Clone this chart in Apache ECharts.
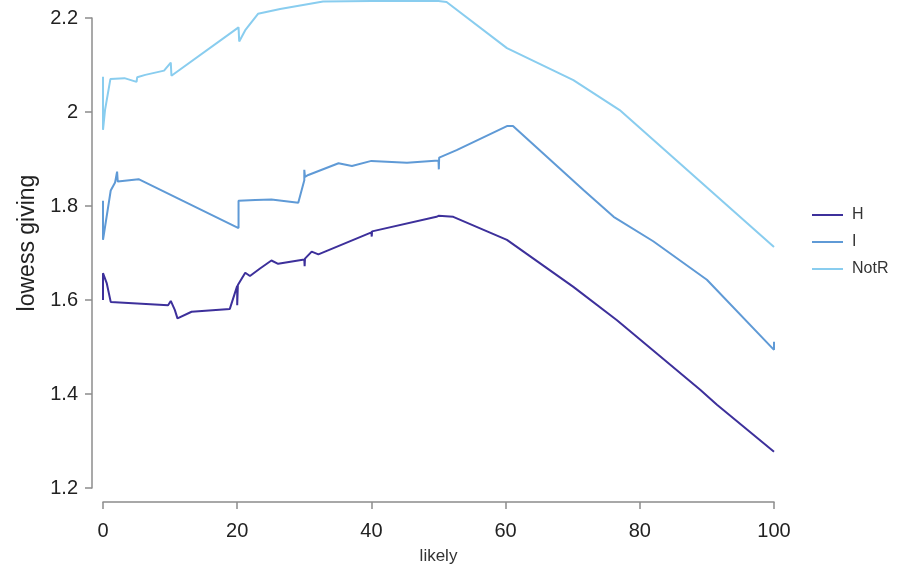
<!DOCTYPE html>
<html>
<head>
<meta charset="utf-8">
<script src="https://cdn.jsdelivr.net/npm/echarts@6/dist/echarts.min.js"></script>
<style>
  html, body { margin: 0; padding: 0; background: #fff; }
  #chart { width: 898px; height: 570px; }
</style>
</head>
<body>
<div id="chart"></div>
<script>
// Series names
var seriesNames = ["H", "I", "NotR"];

// H series
var hX = [0, 0, 0.55, 1.15, 9.7, 10.1, 10.7, 11.1, 13.2, 18.9, 20.0, 20.0, 20.1, 21.2, 21.9, 23.4, 25.1, 26.1, 30.0, 30.05, 30.1, 31.1, 32.1, 40.0, 40.05, 40.1, 49.7, 50.0, 52.2, 60.2, 70.1, 76.6, 89.0, 91.5, 100];
var hY = [1.600, 1.657, 1.636, 1.596, 1.589, 1.598, 1.579, 1.561, 1.575, 1.581, 1.630, 1.589, 1.632, 1.658, 1.651, 1.667, 1.684, 1.677, 1.686, 1.672, 1.688, 1.703, 1.697, 1.744, 1.735, 1.746, 1.777, 1.779, 1.777, 1.728, 1.628, 1.557, 1.409, 1.377, 1.277];

// I series
var iX = [0, 0, 1.15, 1.8, 2.1, 2.2, 5.3, 20.2, 20.2, 22.7, 25.1, 29.1, 30.0, 30.0, 30.1, 30.6, 35.1, 37.1, 40.0, 45.3, 50.0, 50.05, 50.1, 52.7, 60.2, 61.1, 71.6, 76.1, 82.0, 90.0, 100, 100];
var iY = [1.811, 1.728, 1.833, 1.850, 1.873, 1.852, 1.857, 1.753, 1.811, 1.813, 1.814, 1.807, 1.855, 1.877, 1.862, 1.866, 1.891, 1.885, 1.896, 1.892, 1.897, 1.878, 1.903, 1.919, 1.970, 1.970, 1.834, 1.777, 1.725, 1.643, 1.494, 1.511];

// NotR series
var nX = [0, 0, 0.3, 1.1, 3.2, 5.0, 5.1, 6.3, 9.1, 10.1, 10.2, 20.2, 20.3, 21.2, 23.1, 26.4, 32.8, 40, 45, 50, 51.2, 60.2, 70.1, 77.0, 100];
var nY = [2.075, 1.962, 2.004, 2.070, 2.072, 2.064, 2.074, 2.079, 2.088, 2.105, 2.077, 2.180, 2.150, 2.174, 2.209, 2.219, 2.235, 2.236, 2.236, 2.236, 2.234, 2.136, 2.068, 2.004, 1.713];

// Axis ticks
var xTicks = [0, 20, 40, 60, 80, 100];
var yTicks = [1.2, 1.4, 1.6, 1.8, 2.0, 2.2];

var colors = ["#3d309b", "#5f9ad6", "#89cdef"];

function zip(xs, ys) { return xs.map(function (x, k) { return [x, ys[k]]; }); }

var FONT = '"Liberation Sans", Arial, sans-serif';
var chart = echarts.init(document.getElementById('chart'), null, { renderer: 'canvas' });

var dataSets = [zip(hX, hY), zip(iX, iY), zip(nX, nY)];

chart.setOption({
  animation: false,
  backgroundColor: '#ffffff',
  color: colors,
  grid: { left: 103, right: 124, top: 18, bottom: 82, containLabel: false },
  legend: {
    orient: 'vertical',
    left: 807,
    top: 202,
    icon: 'rect',
    itemWidth: 31,
    itemHeight: 2,
    itemGap: 11,
    textStyle: { fontFamily: FONT, fontSize: 16, color: '#333', padding: [0, 0, 0, 4] },
    data: seriesNames
  },
  xAxis: {
    type: 'value',
    min: xTicks[0],
    max: xTicks[xTicks.length - 1],
    interval: 20,
    offset: 14,
    name: 'likely',
    nameLocation: 'middle',
    nameGap: 46,
    nameTextStyle: { fontFamily: FONT, fontSize: 17, color: '#333' },
    axisLine: { show: true, onZero: false, lineStyle: { color: '#8c8c8c', width: 1.5 } },
    axisTick: { show: true, length: 7, lineStyle: { color: '#8c8c8c', width: 1.5 } },
    axisLabel: { fontFamily: FONT, fontSize: 20, color: '#222', margin: 19 },
    splitLine: { show: false }
  },
  yAxis: {
    type: 'value',
    min: yTicks[0],
    max: yTicks[yTicks.length - 1],
    interval: 0.2,
    offset: 11,
    name: 'lowess giving',
    nameLocation: 'middle',
    nameRotate: 90,
    nameGap: 53,
    nameTextStyle: { fontFamily: FONT, fontSize: 23, color: '#222', padding: [0, 0, 0, 20] },
    axisLine: { show: true, onZero: false, lineStyle: { color: '#8c8c8c', width: 1.5 } },
    axisTick: { show: true, length: 7, lineStyle: { color: '#8c8c8c', width: 1.5 } },
    axisLabel: {
      fontFamily: FONT, fontSize: 20, color: '#222', margin: 14,
      formatter: function (v) { return String(Math.round(v * 10) / 10); }
    },
    splitLine: { show: false }
  },
  series: seriesNames.map(function (name, k) {
    return {
      name: name,
      type: 'line',
      data: dataSets[k],
      symbol: 'none',
      showSymbol: false,
      clip: false,
      lineStyle: { width: 2, color: colors[k] },
      itemStyle: { color: colors[k] }
    };
  })
});
</script>
</body>
</html>
